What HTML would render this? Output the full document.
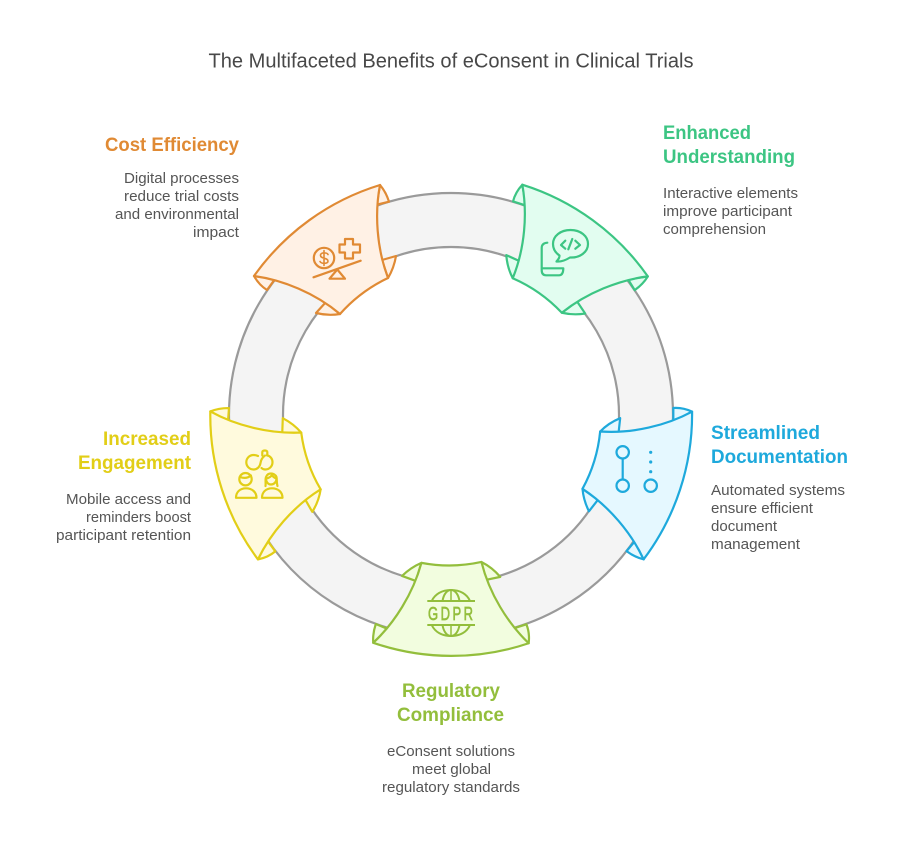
<!DOCTYPE html>
<html>
<head>
<meta charset="utf-8">
<style>
html,body{margin:0;padding:0;background:#fff;width:902px;height:848px;overflow:hidden}
svg{display:block}
text{font-family:"Liberation Sans",sans-serif}
.d{font-size:14.6px;fill:#555}
.h{font-size:19px;font-weight:bold}
</style>
</head>
<body>
<svg width="902" height="848" viewBox="0 0 902 848" xmlns="http://www.w3.org/2000/svg">
<defs>
<g id="tabs">
<path d="M380,185 Q386,192 389,201.7 L376.7,204.7 Z"/>
<path d="M388,278 Q394,268 396,256 L382,260 Z"/>
<path d="M254,276 Q259,285 267,290 L275,279 Z"/>
<path d="M340,314 Q328,316 316,313 L326,302 Z"/>
</g>
<path id="seg" d="M380,185 A241,241 0 0 0 254,276 C283,280 315,293 340,314 A150,150 0 0 1 388,278 C376.7,248 374.5,213.5 380,185 Z"/>
</defs>

<text x="451" y="67.5" text-anchor="middle" font-size="20" fill="#484848" textLength="485" lengthAdjust="spacingAndGlyphs">The Multifaceted Benefits of eConsent in Clinical Trials</text>

<!-- ring -->
<path d="M451,193 A222,222 0 1 1 450.99,193 Z M451,247 A168,168 0 1 0 451.01,247 Z" fill="#f4f4f4" fill-rule="evenodd" stroke="#9a9a9a" stroke-width="2.2"/>

<!-- segments -->
<g stroke-width="2.2" stroke-linejoin="round">
<g fill="#FFF1E5" stroke="#E08A34"><use href="#tabs"/><use href="#seg"/></g>
<g fill="#E2FDF0" stroke="#3CC583" transform="rotate(72 451 415)"><use href="#tabs"/><use href="#seg"/></g>
<g fill="#E5F8FF" stroke="#1EA9DC" transform="rotate(144 451 415)"><use href="#tabs"/><use href="#seg"/></g>
<g fill="#F2FDDF" stroke="#93BE3C" transform="rotate(216 451 415)"><use href="#tabs"/><use href="#seg"/></g>
<g fill="#FFFADD" stroke="#E2CE17" transform="rotate(288 451 415)"><use href="#tabs"/><use href="#seg"/></g>
</g>

<!-- icon: cost -->
<g fill="none" stroke="#E08A34" stroke-width="2.2" stroke-linejoin="round" stroke-linecap="round">
<circle cx="324" cy="258" r="10.2"/>
<path d="M328,254.5 C327,252.5 321,252 320.5,255 C320,259 328,257.5 328,261 C328,264 321.5,264 320,261.5 M324,250.5 V265.5" stroke-width="1.6"/>
<path d="M345,239 H353 V244.5 H360 V252.5 H353 V258.5 H345 V252.5 H339.5 V244.5 H345 Z"/>
<path d="M313.5,277.3 L360.7,260.7"/>
<path d="M337.3,269.5 L329.5,278.7 H345 Z"/>
</g>

<!-- icon: understanding -->
<g fill="none" stroke="#3CC583" stroke-width="2.2" stroke-linejoin="round" stroke-linecap="round">
<path d="M556.5,261.5 C559,258.5 559.5,257.5 559.5,255.5 C555,252.5 553,248.5 553,244 C553,236 560.5,230 570.5,230 C580.5,230 588,236 588,244 C588,252 580,258 570,257.5 C566,260 561,262 556.5,261.5 Z"/>
<path d="M547.3,242.7 C543.5,243 541.7,245 541.7,248 V270 C541.7,273.5 543,275.3 546,275.3 H559 C562,275.3 563.3,273 563.3,268.3 H543"/>
<path d="M565.3,240.7 L561,245 L565.3,248.7 M572.3,239 L568.3,249.3 M575.3,240.7 L580,245 L575.3,248.7"/>
</g>

<!-- icon: documentation -->
<g fill="none" stroke="#1EA9DC" stroke-width="2.2">
<circle cx="622.7" cy="452.3" r="6.2"/>
<circle cx="622.7" cy="485.7" r="6.2"/>
<circle cx="650.7" cy="485.7" r="6.2"/>
<path d="M622.7,458.5 V479.5"/>
</g>
<g fill="#1EA9DC">
<circle cx="650.7" cy="452.3" r="1.6"/>
<circle cx="650.7" cy="462" r="1.6"/>
<circle cx="650.7" cy="471.7" r="1.6"/>
</g>

<!-- icon: GDPR -->
<g fill="none" stroke="#93BE3C" stroke-width="2">
<path d="M427.3,601 H475 M427.3,625 H475"/>
<path d="M431.7,601 C435,594 442,590 451,590 C460,590 467,594 470,601"/>
<path d="M431.7,625 C435,632 442,636 451,636 C460,636 467,632 470,625"/>
<path d="M442.5,601 C443.5,595 446.5,590 451,590 C455.5,590 458.5,595 459.5,601"/>
<path d="M442.5,625 C443.5,631 446.5,636 451,636 C455.5,636 458.5,631 459.5,625"/>
<path d="M451,590 V601 M451,625 V636" stroke-width="1.5"/>
</g>
<text transform="translate(428,620) scale(1,1.4)" x="0" y="0" font-size="13" fill="#93BE3C" stroke="#93BE3C" stroke-width="0.5" textLength="45" lengthAdjust="spacing">GDPR</text>

<!-- icon: engagement -->
<g fill="none" stroke="#E2CE17" stroke-width="2.2" stroke-linejoin="round" stroke-linecap="round">
<path d="M258,456 C256.5,455.2 255,455 253.5,455 C249.5,455 246.3,458.3 246.3,462.3 C246.3,466.3 249.5,469.5 253.5,469.5 C257.5,469.5 260,466.5 260.5,463 C261,459.5 263,457 265,455.5"/>
<path d="M267,455.3 C270.5,456 272.5,459 272.5,462.3 C272.5,466.3 269.3,469.5 265.3,469.5 C263.8,469.5 262.5,469 261.5,468"/>
<path d="M262.3,455.5 V452 C262.3,450 267.3,450 267.3,452 V455.5"/>
<circle cx="245.5" cy="479.2" r="6.2"/>
<path d="M240,477 C244,478.5 248,478 251,475.5"/>
<path d="M236,497.8 C236,492 240,488.3 246,488.3 C252,488.3 256.5,492 256.5,497.8 Z"/>
<path d="M265.5,486 C266,483 265,479.5 266,477 C267,474.5 269,473.5 271,473.5 C273,473.5 275.5,474.5 276.5,477 C277,479.5 276.5,483 277.5,486"/>
<path d="M266,478.5 C269,478 271,476.5 272,475 C273,477 275,478 276.5,478.5 C276.5,482 274,484.5 271,484.5 C268,484.5 266,482 266,478.5 Z"/>
<path d="M262,497.8 C262,492 266,488.3 272,488.3 C278,488.3 282.5,492 282.5,497.8 Z"/>
</g>

<!-- Cost Efficiency -->
<text class="h" x="105" y="151" fill="#E08A34" textLength="134" lengthAdjust="spacingAndGlyphs">Cost Efficiency</text>
<text class="d" x="124" y="183" textLength="115" lengthAdjust="spacingAndGlyphs">Digital processes</text>
<text class="d" x="124" y="201" textLength="115" lengthAdjust="spacingAndGlyphs">reduce trial costs</text>
<text class="d" x="115" y="219" textLength="124" lengthAdjust="spacingAndGlyphs">and environmental</text>
<text class="d" x="193" y="237" textLength="46" lengthAdjust="spacingAndGlyphs">impact</text>

<!-- Enhanced Understanding -->
<text class="h" x="663" y="139" fill="#3CC583" textLength="88" lengthAdjust="spacingAndGlyphs">Enhanced</text>
<text class="h" x="663" y="163" fill="#3CC583" textLength="132" lengthAdjust="spacingAndGlyphs">Understanding</text>
<text class="d" x="663" y="198" textLength="135" lengthAdjust="spacingAndGlyphs">Interactive elements</text>
<text class="d" x="663" y="216" textLength="129" lengthAdjust="spacingAndGlyphs">improve participant</text>
<text class="d" x="663" y="234" textLength="103" lengthAdjust="spacingAndGlyphs">comprehension</text>

<!-- Streamlined Documentation -->
<text class="h" x="711" y="439" fill="#1EA9DC" textLength="109" lengthAdjust="spacingAndGlyphs">Streamlined</text>
<text class="h" x="711" y="463" fill="#1EA9DC" textLength="137" lengthAdjust="spacingAndGlyphs">Documentation</text>
<text class="d" x="711" y="495" textLength="134" lengthAdjust="spacingAndGlyphs">Automated systems</text>
<text class="d" x="711" y="513" textLength="102" lengthAdjust="spacingAndGlyphs">ensure efficient</text>
<text class="d" x="711" y="531" textLength="66" lengthAdjust="spacingAndGlyphs">document</text>
<text class="d" x="711" y="549" textLength="89" lengthAdjust="spacingAndGlyphs">management</text>

<!-- Regulatory Compliance -->
<text class="h" x="402" y="697" fill="#93BE3C" textLength="98" lengthAdjust="spacingAndGlyphs">Regulatory</text>
<text class="h" x="397" y="721" fill="#93BE3C" textLength="107" lengthAdjust="spacingAndGlyphs">Compliance</text>
<text class="d" x="387" y="756" textLength="128" lengthAdjust="spacingAndGlyphs">eConsent solutions</text>
<text class="d" x="412" y="774" textLength="79" lengthAdjust="spacingAndGlyphs">meet global</text>
<text class="d" x="382" y="792" textLength="138" lengthAdjust="spacingAndGlyphs">regulatory standards</text>

<!-- Increased Engagement -->
<text class="h" x="103" y="445" fill="#E2CE17" textLength="88" lengthAdjust="spacingAndGlyphs">Increased</text>
<text class="h" x="78" y="469" fill="#E2CE17" textLength="113" lengthAdjust="spacingAndGlyphs">Engagement</text>
<text class="d" x="66" y="504" textLength="125" lengthAdjust="spacingAndGlyphs">Mobile access and</text>
<text class="d" x="86" y="522" textLength="105" lengthAdjust="spacingAndGlyphs">reminders boost</text>
<text class="d" x="56" y="540" textLength="135" lengthAdjust="spacingAndGlyphs">participant retention</text>
</svg>
</body>
</html>
